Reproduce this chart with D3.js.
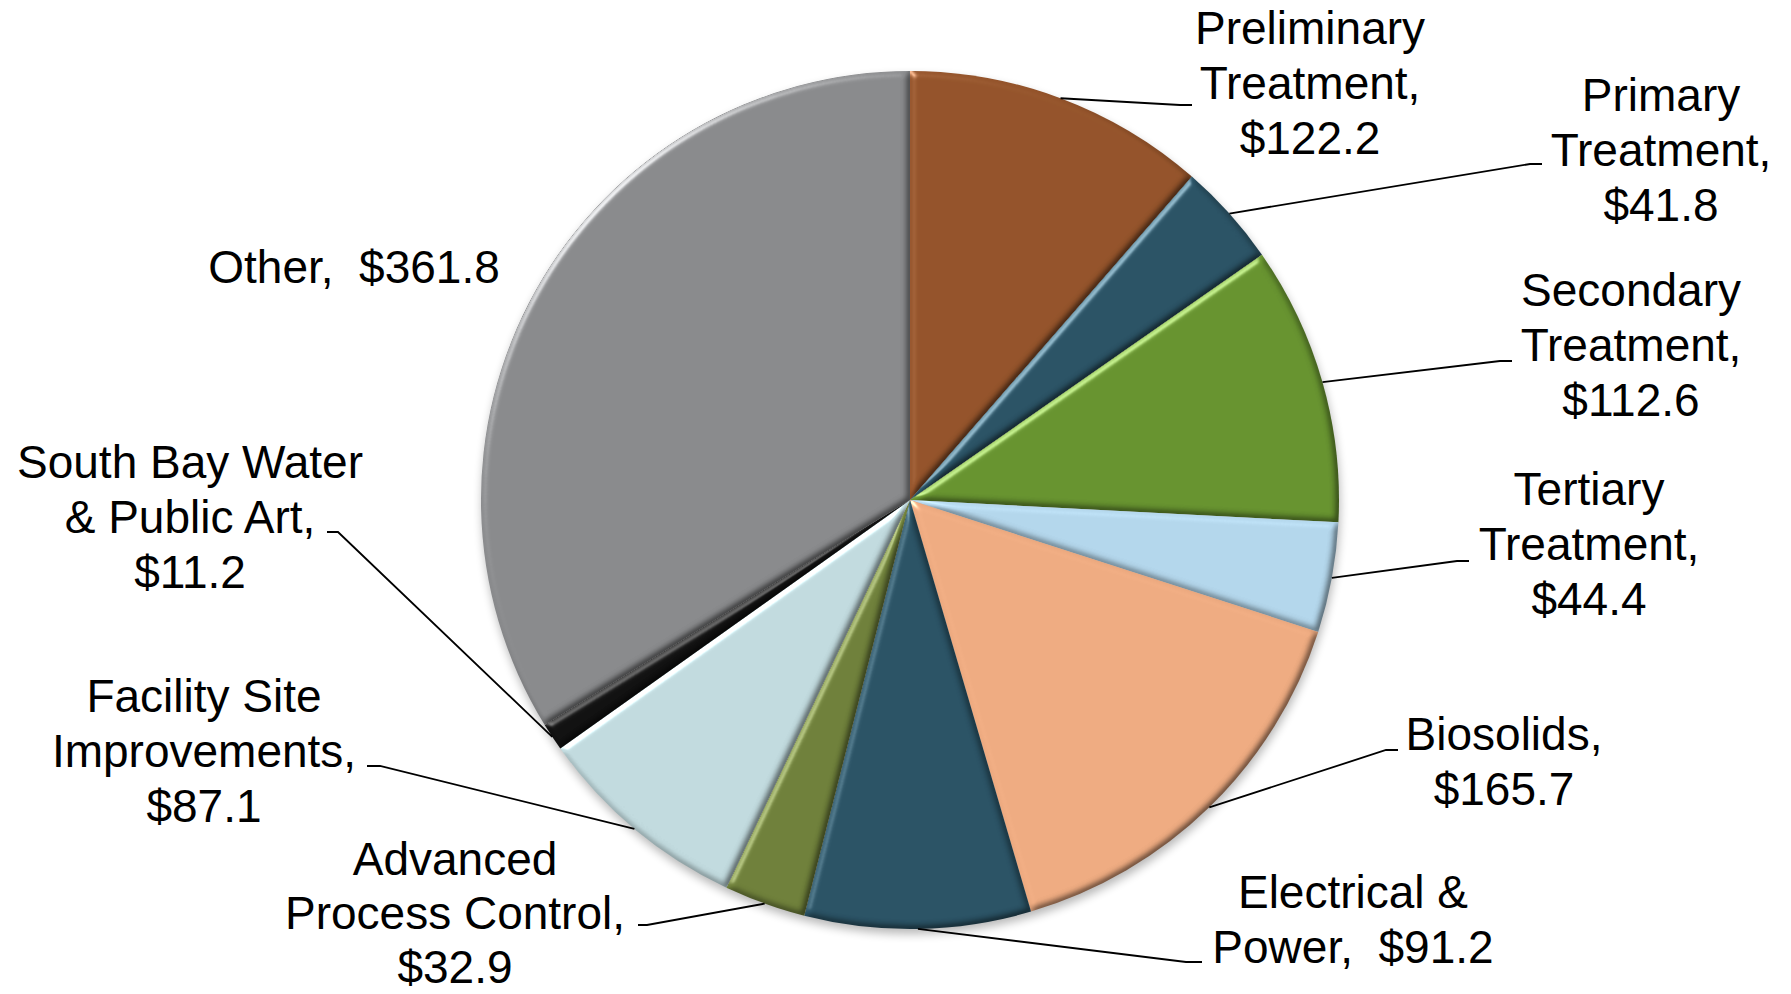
<!DOCTYPE html>
<html>
<head>
<meta charset="utf-8">
<script src="https://cdn.jsdelivr.net/npm/d3@7"></script>
<style>
  html, body { margin: 0; padding: 0; background: #fff; }
  svg { display: block; }
  text { font-family: "Liberation Sans", Arial, sans-serif; fill: #000; }
</style>
</head>
<body>
<svg id="chart" width="1791" height="994"></svg>
<script>
// data ($ millions)
const categories = [
    "Preliminary Treatment", "Primary Treatment", "Secondary Treatment",
    "Tertiary Treatment", "Biosolids", "Electrical & Power",
    "Advanced Process Control", "Facility Site Improvements",
    "South Bay Water & Public Art", "Other"
];
const values = [122.2, 41.8, 112.6, 44.4, 165.7, 91.2, 32.9, 87.1, 11.2, 361.8];
const valueLabels = ["$122.2", "$41.8", "$112.6", "$44.4", "$165.7", "$91.2", "$32.9", "$87.1", "$11.2", "$361.8"];

// how each data label is broken into lines (the value goes where {v} is)
const labelLines = [
    ["Preliminary", "Treatment,", "{v}"],
    ["Primary", "Treatment,", "{v}"],
    ["Secondary", "Treatment,", "{v}"],
    ["Tertiary", "Treatment,", "{v}"],
    ["Biosolids,", "{v}"],
    ["Electrical &", "Power,\u00a0\u00a0{v}"],
    ["Advanced", "Process Control,", "{v}"],
    ["Facility Site", "Improvements,", "{v}"],
    ["South Bay Water", "& Public Art,", "{v}"],
    ["Other,\u00a0\u00a0{v}"]
];

const colors = ["#93532a", "#2a5264", "#66922f", "#b2d5ea", "#edaa80",
                "#2a5264", "#6e7f3a", "#c0d9dd", "#111111", "#88898b"];

// label placement: text centre x, first baseline y, line gap, leader elbow and end (null = no leader)
const labelLayout = [
    { x: 1310, y: 44,  gap: 55, elbow: [1180, 105], end: [1192, 105] },
    { x: 1661, y: 111, gap: 55, elbow: [1530, 164], end: [1542, 164] },
    { x: 1631, y: 306, gap: 55, elbow: [1500, 361], end: [1512, 361] },
    { x: 1589, y: 505, gap: 55, elbow: [1457, 561], end: [1469, 561] },
    { x: 1504, y: 750, gap: 55, elbow: [1386, 750], end: [1398, 750] },
    { x: 1353, y: 908, gap: 55, elbow: [1186, 962], end: [1202, 962] },
    { x: 455,  y: 875, gap: 54, elbow: [647, 925],  end: [638, 925] },
    { x: 204,  y: 712, gap: 55, elbow: [380, 766],  end: [367, 766] },
    { x: 190,  y: 478, gap: 55, elbow: [338, 532],  end: [327, 532] },
    { x: 354,  y: 283, gap: 55, elbow: null, end: null }
];

const svg = d3.select("#chart");
const cx = 910, cy = 500, radius = 429;
const fontSize = 46;

const defs = svg.append("defs");

// soft bevel like the office "soft round" effect
const bevel = defs.append("filter")
    .attr("id", "bevel")
    .attr("color-interpolation-filters", "sRGB")
    .attr("x", "-10%").attr("y", "-10%")
    .attr("width", "120%").attr("height", "120%");
bevel.append("feGaussianBlur")
    .attr("in", "SourceAlpha").attr("stdDeviation", 3.5).attr("result", "blur");
bevel.append("feDiffuseLighting")
    .attr("in", "blur").attr("surfaceScale", 3)
    .attr("diffuseConstant", 1 / Math.sin(Math.PI / 3))
    .attr("lighting-color", "#fff").attr("result", "diff")
    .append("feDistantLight").attr("azimuth", 225).attr("elevation", 60);
bevel.append("feComposite")
    .attr("in", "SourceGraphic").attr("in2", "diff")
    .attr("operator", "arithmetic")
    .attr("k1", 1).attr("k2", 0).attr("k3", 0).attr("k4", 0)
    .attr("result", "shaded");
bevel.append("feSpecularLighting")
    .attr("in", "blur").attr("surfaceScale", 3.5)
    .attr("specularConstant", 0.8).attr("specularExponent", 30)
    .attr("lighting-color", "#fff").attr("result", "spec")
    .append("feDistantLight").attr("azimuth", 225).attr("elevation", 30);
bevel.append("feComposite")
    .attr("in", "spec").attr("in2", "SourceAlpha")
    .attr("operator", "in").attr("result", "specIn");
bevel.append("feComposite")
    .attr("in", "shaded").attr("in2", "specIn")
    .attr("operator", "arithmetic")
    .attr("k1", 0).attr("k2", 1).attr("k3", 0.5).attr("k4", 0);

const shadow = defs.append("filter")
    .attr("id", "shadow")
    .attr("x", "-10%").attr("y", "-10%")
    .attr("width", "120%").attr("height", "120%");
shadow.append("feGaussianBlur").attr("stdDeviation", 5);

const data = categories.map((c, i) => ({ name: c, value: values[i], i }));

const pie = d3.pie().sort(null).value(d => d.value);
const arcs = pie(data);

const arc = d3.arc().innerRadius(0).outerRadius(radius);
const rim = d3.arc().innerRadius(radius).outerRadius(radius);

const g = svg.append("g").attr("transform", `translate(${cx},${cy})`);

// drop shadow under the pie
g.append("circle")
    .attr("cx", 1).attr("cy", 5).attr("r", radius)
    .attr("fill", "#000").attr("opacity", 0.28)
    .attr("filter", "url(#shadow)");

g.selectAll("path.slice")
    .data(arcs)
    .enter().append("path")
    .attr("class", "slice")
    .attr("d", arc)
    .attr("fill", d => colors[d.data.i])
    .attr("filter", "url(#bevel)");

// leader lines
const leaders = svg.append("g");
arcs.forEach(d => {
    const lay = labelLayout[d.data.i];
    if (!lay.elbow) return;
    const p = rim.centroid(d);
    const pts = [[cx + p[0], cy + p[1]], lay.elbow, lay.end];
    leaders.append("path")
        .attr("d", d3.line()(pts))
        .attr("fill", "none")
        .attr("stroke", "#000")
        .attr("stroke-width", 1.8);
});

// data labels
const labels = svg.append("g");
data.forEach(d => {
    const lay = labelLayout[d.i];
    const t = labels.append("text")
        .attr("transform", `translate(${lay.x},${lay.y})`)
        .attr("text-anchor", "middle")
        .style("font-size", fontSize + "px");
    labelLines[d.i].forEach((line, k) => {
        t.append("tspan")
            .attr("x", 0)
            .attr("dy", k === 0 ? 0 : lay.gap)
            .text(line.replace("{v}", valueLabels[d.i]));
    });
});
</script>
</body>
</html>
